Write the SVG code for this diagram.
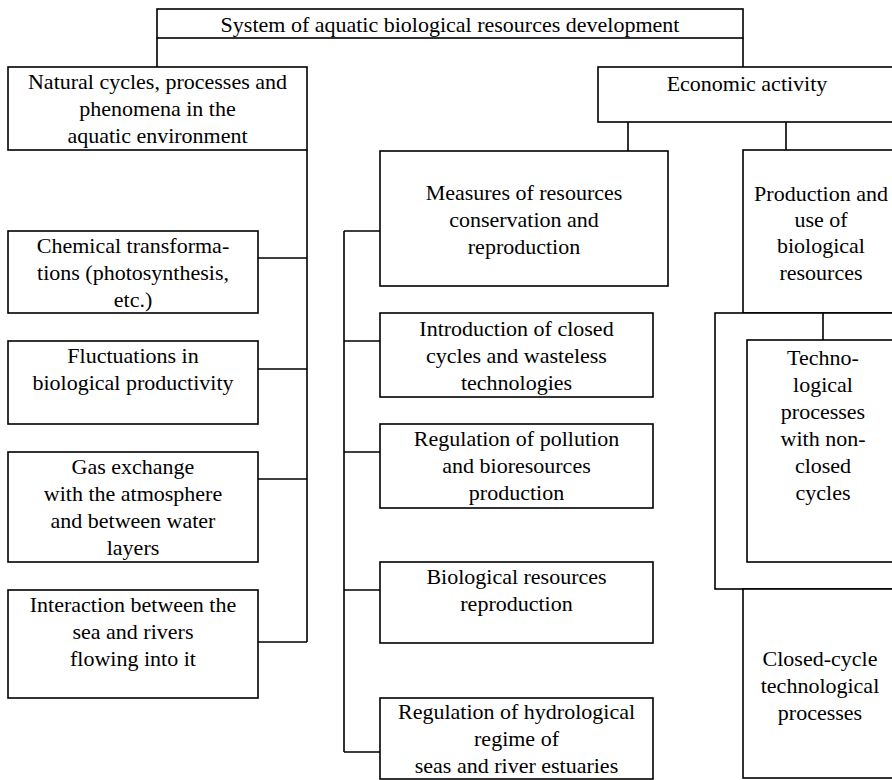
<svg xmlns="http://www.w3.org/2000/svg" width="892" height="780" viewBox="0 0 892 780">
<style>
.box{fill:#fff;stroke:#000;stroke-width:1.6}
.ln{fill:none;stroke:#000;stroke-width:1.6}
text{font-family:'Liberation Serif','Times New Roman',Tinos,'DejaVu Serif','Noto Serif',serif;font-size:22px;fill:#000;text-anchor:middle}
</style>
<rect x="0" y="0" width="892" height="780" fill="#fff"/>
<g id="connectors">
<path class="ln" d="M157,38V67M743,38V67"/>
<path class="ln" d="M307,150V642M258,258H307M258,369H307M258,479H307M258,642H307"/>
<path class="ln" d="M628,122V151M786,122V150"/>
<path class="ln" d="M344,231V752M344,231H380M344,341H380M344,452H380M344,590H380M344,752H380"/>
</g>
<g font-family="Liberation Serif, Times New Roman, Tinos, DejaVu Serif, serif">
<g id="title"><rect class="box" x="157" y="9" width="586" height="29"/><text x="450" y="32">System of aquatic biological resources development</text></g>
<g id="natural"><rect class="box" x="8" y="67" width="299" height="83"/><text x="157.5" y="89">Natural cycles, processes and</text><text x="157.5" y="116">phenomena in the</text><text x="157.5" y="143">aquatic environment</text></g>
<g id="economic"><rect class="box" x="598" y="67" width="300" height="55"/><text x="747" y="91">Economic activity</text></g>
<g id="chemical"><rect class="box" x="8" y="231" width="250" height="82"/><text x="133" y="253">Chemical transforma-</text><text x="133" y="280">tions (photosynthesis,</text><text x="133" y="307">etc.)</text></g>
<g id="fluctuations"><rect class="box" x="8" y="341" width="250" height="83"/><text x="133" y="363">Fluctuations in</text><text x="133" y="390">biological productivity</text></g>
<g id="gas"><rect class="box" x="8" y="452" width="250" height="110"/><text x="133" y="474">Gas exchange</text><text x="133" y="501">with the atmosphere</text><text x="133" y="528">and between water</text><text x="133" y="555">layers</text></g>
<g id="interaction"><rect class="box" x="8" y="590" width="250" height="108"/><text x="133" y="612">Interaction between the</text><text x="133" y="639">sea and rivers</text><text x="133" y="666">flowing into it</text></g>
<g id="measures"><rect class="box" x="380" y="151" width="288" height="135"/><text x="524" y="200">Measures of resources</text><text x="524" y="227">conservation and</text><text x="524" y="254">reproduction</text></g>
<g id="introduction"><rect class="box" x="380" y="313" width="273" height="84"/><text x="516.5" y="336">Introduction of closed</text><text x="516.5" y="363">cycles and wasteless</text><text x="516.5" y="390">technologies</text></g>
<g id="pollution"><rect class="box" x="380" y="424" width="273" height="84"/><text x="516.5" y="446">Regulation of pollution</text><text x="516.5" y="473">and bioresources</text><text x="516.5" y="500">production</text></g>
<g id="reproduction"><rect class="box" x="380" y="562" width="273" height="81"/><text x="516.5" y="584">Biological resources</text><text x="516.5" y="611">reproduction</text></g>
<g id="hydrological"><rect class="box" x="380" y="698" width="273" height="81"/><text x="516.5" y="719">Regulation of hydrological</text><text x="516.5" y="746">regime of</text><text x="516.5" y="773">seas and river estuaries</text></g>
<g id="production"><rect class="box" x="743" y="150" width="156" height="163"/><text x="821" y="201">Production and</text><text x="821" y="227">use of</text><text x="821" y="253">biological</text><text x="821" y="280">resources</text></g>
<g id="technological"><rect class="box" x="715" y="313" width="184" height="276"/></g>
<g id="nonclosed"><rect class="box" x="747" y="340" width="152" height="222"/><text x="823" y="365">Techno-</text><text x="823" y="392">logical</text><text x="823" y="419">processes</text><text x="823" y="446">with non-</text><text x="823" y="473">closed</text><text x="823" y="500">cycles</text></g>
<g id="closedcycle"><rect class="box" x="743" y="589" width="156" height="189"/><text x="820" y="666">Closed-cycle</text><text x="820" y="693">technological</text><text x="820" y="720">processes</text></g>
</g>
<path class="ln" d="M823,313V340"/>
</svg>
